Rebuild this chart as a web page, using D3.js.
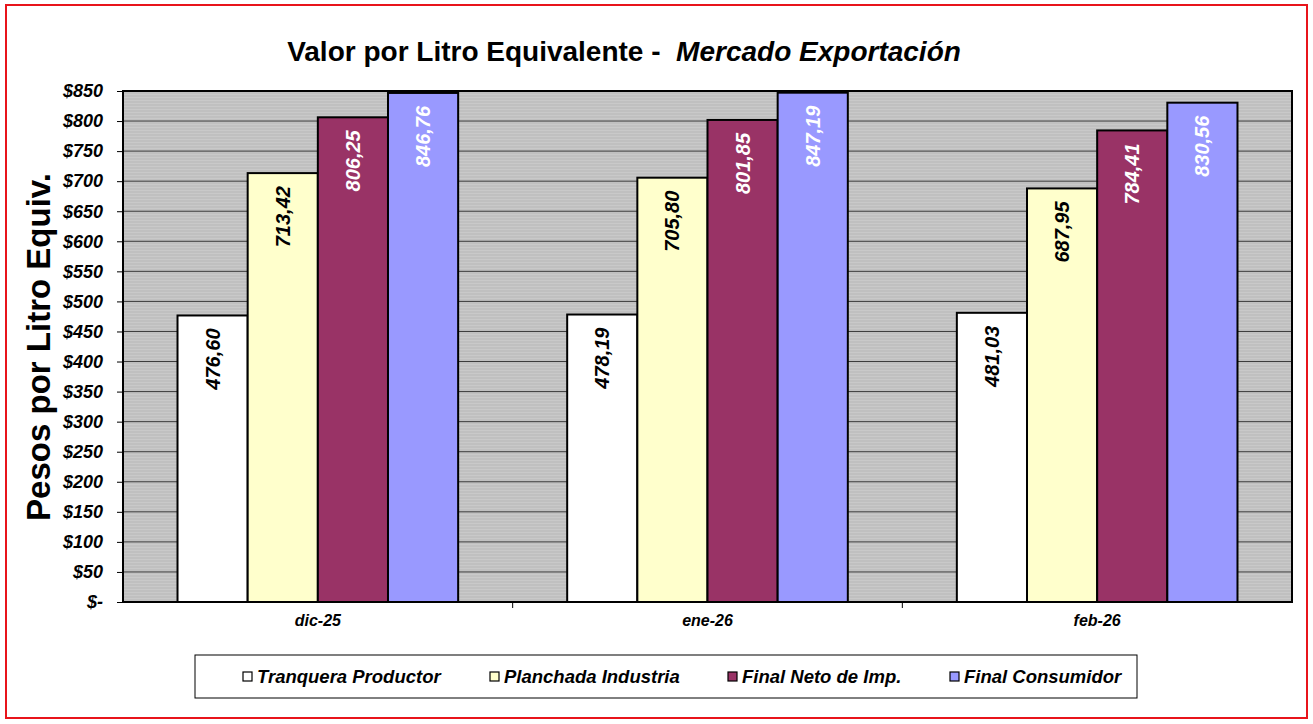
<!DOCTYPE html>
<html>
<head>
<meta charset="utf-8">
<script src="https://cdn.jsdelivr.net/npm/d3@7"></script>
<style>
  body { margin: 0; background: #fff; }
  text { font-family: "Liberation Sans", Arial, sans-serif; }
</style>
</head>
<body>
<svg id="chart" width="1313" height="724"></svg>
<script>
const months = ["dic-25", "ene-26", "feb-26"];
const seriesNames = ["Tranquera Productor", "Planchada Industria", "Final Neto de Imp.", "Final Consumidor"];
const tranquera = [476.60, 478.19, 481.03];
const planchada = [713.42, 705.80, 687.95];
const finalNeto = [806.25, 801.85, 784.41];
const finalConsumidor = [846.76, 847.19, 830.56];
const yTicks = d3.range(0, 851, 50);

const seriesValues = [tranquera, planchada, finalNeto, finalConsumidor];
const fills = ["#FFFFFF", "#FFFFCC", "#993366", "#9999FF"];
const labelColors = ["#000", "#000", "#fff", "#fff"];

const svg = d3.select("#chart");
const margin = { top: 91, right: 21, bottom: 122, left: 123 };
const width = 1313 - margin.left - margin.right,
      height = 724 - margin.top - margin.bottom;

// outer red frame
svg.append("rect")
  .attr("x", 6).attr("y", 5).attr("width", 1301).attr("height", 713)
  .attr("fill", "#fff").attr("stroke", "#e8141b").attr("stroke-width", 2);

// stripe pattern for plot area
const defs = svg.append("defs");
const pat = defs.append("pattern")
  .attr("id", "stripes").attr("patternUnits", "userSpaceOnUse")
  .attr("width", 8).attr("height", 3);
pat.append("rect").attr("width", 8).attr("height", 3).attr("fill", "#c0c0c0");
pat.append("rect").attr("width", 8).attr("height", 1).attr("fill", "#c9c9c9");

const g = svg.append("g").attr("transform", `translate(${margin.left},${margin.top})`);

const x0 = d3.scaleBand().domain(months).range([0, width]);
const x1 = d3.scaleBand().domain(d3.range(4)).range([0, x0.bandwidth()]).paddingOuter(0.37 * 2.1).paddingInner(0);
const y = d3.scaleLinear().domain([0, 850]).range([height, 0]);

g.append("rect").attr("width", width).attr("height", height).attr("fill", "url(#stripes)");

// gridlines
g.append("g")
  .selectAll("line")
  .data(yTicks.filter(d => d > 0 && d < 850))
  .enter().append("line")
  .attr("x1", 0).attr("x2", width)
  .attr("y1", d => y(d)).attr("y2", d => y(d))
  .attr("stroke", "#3a3a3a").attr("stroke-width", 1);

// bars
const groups = g.selectAll(".grp")
  .data(months)
  .enter().append("g")
  .attr("transform", d => `translate(${x0(d)},0)`);

groups.each(function(m, mi) {
  const grp = d3.select(this);
  seriesValues.forEach((vals, si) => {
    const v = vals[mi];
    grp.append("rect")
      .attr("x", x1(si))
      .attr("y", y(v))
      .attr("width", x1.bandwidth())
      .attr("height", height - y(v))
      .attr("fill", fills[si])
      .attr("stroke", "#000")
      .attr("stroke-width", 2);
    const cx = x1(si) + x1.bandwidth() / 2;
    const ty = y(v) + 13;
    grp.append("text")
      .attr("transform", `translate(${cx + 7},${ty}) rotate(-90)`)
      .attr("text-anchor", "end")
      .attr("font-size", "20px")
      .attr("font-weight", "bold")
      .attr("font-style", "italic")
      .attr("fill", labelColors[si])
      .text(d3.format(".2f")(v).replace(".", ","));
  });
});

// plot border
g.append("rect").attr("width", width).attr("height", height)
  .attr("fill", "none").attr("stroke", "#000").attr("stroke-width", 2);

// y axis
const yAxis = g.append("g")
  .call(d3.axisLeft(y).tickValues(yTicks).tickSize(6).tickPadding(14)
    .tickFormat(d => d === 0 ? "$-" : "$" + d));
yAxis.select(".domain").remove();
yAxis.selectAll("line").attr("stroke", "#000");
yAxis.selectAll("text")
  .attr("font-size", "18px").attr("font-weight", "bold").attr("font-style", "italic")
  .attr("font-family", "'Liberation Sans', Arial, sans-serif");

// x axis
const xAxis = g.append("g").attr("transform", `translate(0,${height})`)
  .call(d3.axisBottom(x0).tickSize(0).tickPadding(13));
xAxis.select(".domain").remove();
xAxis.selectAll("text")
  .attr("font-size", "16px").attr("font-weight", "bold").attr("font-style", "italic")
  .attr("font-family", "'Liberation Sans', Arial, sans-serif");
// category separator ticks
g.append("g").selectAll("line")
  .data(months.slice(1))
  .enter().append("line")
  .attr("x1", d => x0(d)).attr("x2", d => x0(d))
  .attr("y1", height).attr("y2", height + 6)
  .attr("stroke", "#000");

// title
const title = svg.append("text")
  .attr("x", 624).attr("y", 61)
  .attr("text-anchor", "middle")
  .attr("font-size", "28px").attr("font-weight", "bold")
  .attr("xml:space", "preserve");
title.append("tspan").text("Valor por Litro Equivalente -  ");
title.append("tspan").attr("font-style", "italic").text("Mercado Exportación");

// y label
svg.append("text")
  .attr("transform", "translate(50,347) rotate(-90)")
  .attr("text-anchor", "middle")
  .attr("font-size", "33px").attr("font-weight", "bold")
  .text("Pesos por Litro Equiv.");

// legend
const legend = svg.append("g");
legend.append("rect")
  .attr("x", 195).attr("y", 655).attr("width", 942).attr("height", 43)
  .attr("fill", "#fff").attr("stroke", "#000").attr("stroke-width", 1);
const legendX = [243, 490, 728, 950];
seriesNames.forEach((name, i) => {
  legend.append("rect")
    .attr("x", legendX[i]).attr("y", 672).attr("width", 9).attr("height", 9)
    .attr("fill", fills[i]).attr("stroke", "#000").attr("stroke-width", 1.2);
  legend.append("text")
    .attr("x", legendX[i] + 14).attr("y", 683)
    .attr("font-size", "18.5px").attr("font-weight", "bold").attr("font-style", "italic")
    .text(name);
});
</script>
</body>
</html>
